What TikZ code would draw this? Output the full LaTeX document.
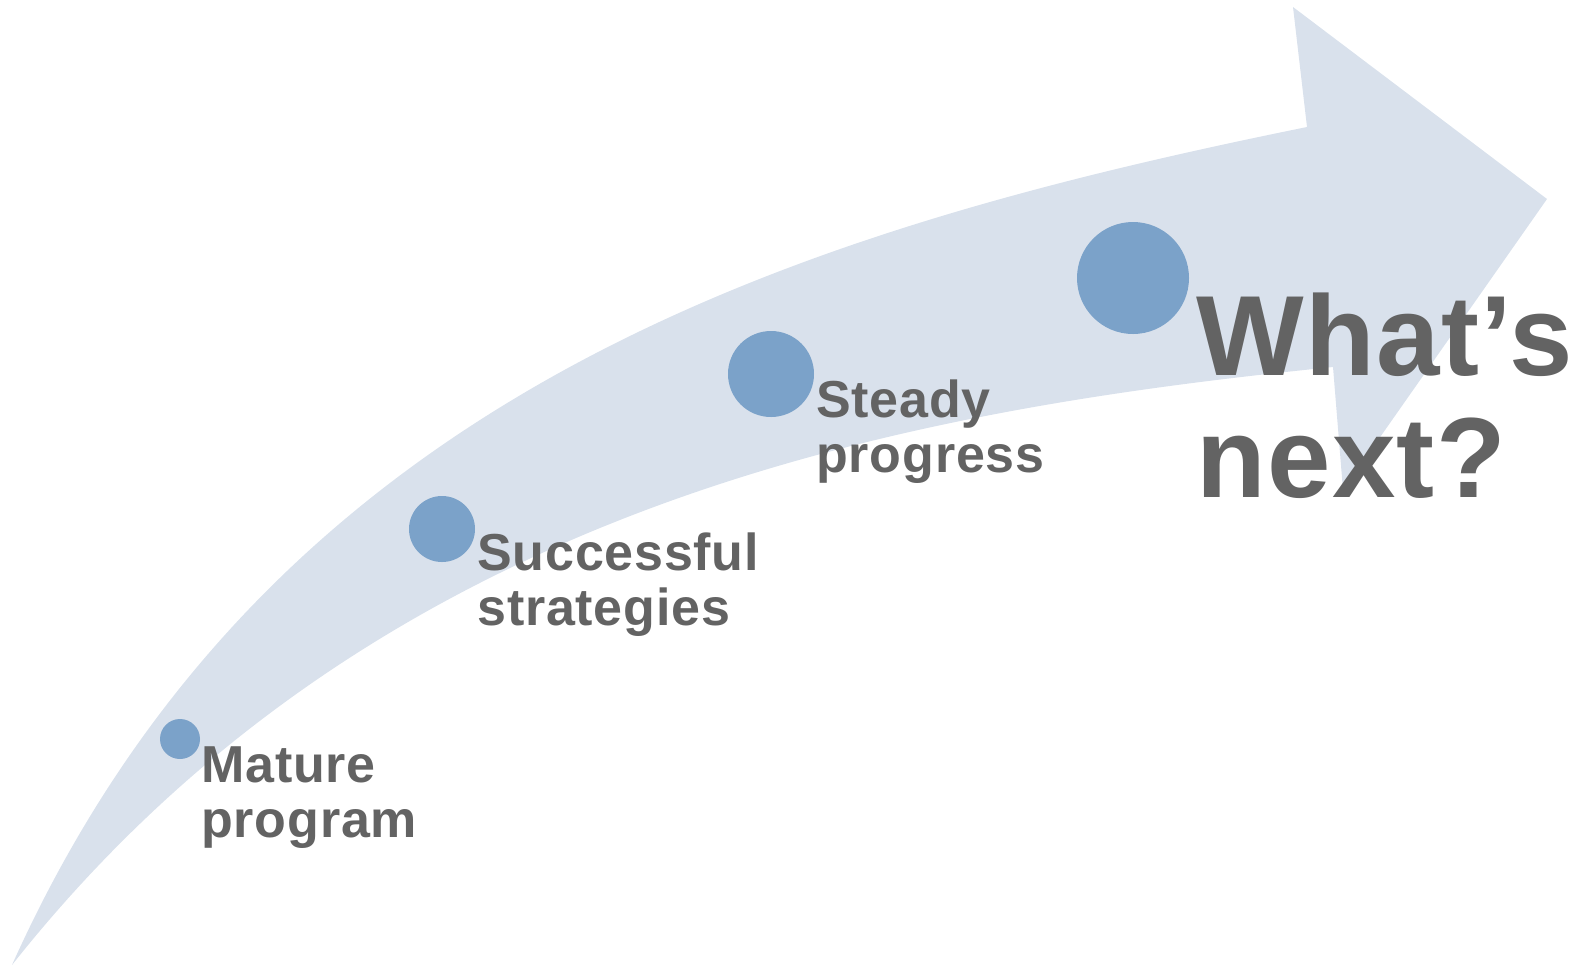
\documentclass[tikz,border=0pt]{standalone}
\usepackage{fontspec}
\setmainfont{Liberation Sans}
\definecolor{bandblue}{HTML}{D9E1EC}
\definecolor{dotblue}{HTML}{7BA2C9}
\definecolor{textgray}{HTML}{636363}
\begin{document}
\begin{tikzpicture}[x=0.5pt,y=-0.5pt,
    dot/.style={circle, fill=dotblue, inner sep=0pt},
    steptext/.style={text=textgray, font=\fontsize{26}{27.5}\selectfont\bfseries\addfontfeatures{LetterSpace=1.5}, align=left, inner sep=0pt, anchor=base west},
    bigtext/.style={text=textgray, font=\fontsize{57}{61}\selectfont\bfseries\addfontfeatures{LetterSpace=1.2}, align=left, inner sep=0pt, anchor=base west}]
        \useasboundingbox (0,0) rectangle (1585,966);

        % Draw the curved arrow band
        \fill[bandblue] (12,965) .. controls (270,390) and (800,230) .. (1307,127)
            -- (1293,7) -- (1547,199) -- (1343,490) -- (1333,367)
            .. controls (910,410) and (380,500) .. (12,965) -- cycle;

        % Draw the milestone dots
        \node[dot, minimum size=20pt] (dotMature) at (180,739) {};
        \node[dot, minimum size=33pt] (dotSuccess) at (442,529) {};
        \node[dot, minimum size=43pt] (dotSteady) at (771,374) {};
        \node[dot, minimum size=56pt] (dotNext) at (1133,278) {};

        % Labels (anchored on the last baseline)
        \node[steptext] (txtMature) at (201,837) {Mature\\program};
        \node[steptext] (txtSuccess) at (477,625) {Successful\\strategies};
        \node[steptext] (txtSteady) at (816,472) {Steady\\progress};
        \node[bigtext] (txtNext) at (1196,497) {What’s\\next?};
    \end{tikzpicture}
\end{document}
